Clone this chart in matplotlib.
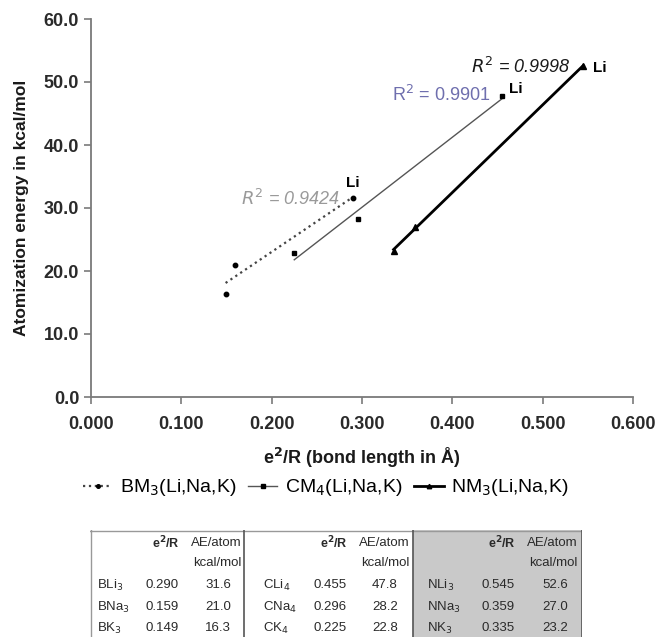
import numpy as np
import matplotlib
matplotlib.use("Agg")
import matplotlib.pyplot as plt
from matplotlib.lines import Line2D
from matplotlib.patches import Rectangle

plt.rcParams['font.family'] = ['Liberation Sans', 'DejaVu Sans']

# data
bm_names = ["BLi$_3$", "BNa$_3$", "BK$_3$"]
bm_x = [0.290, 0.159, 0.149]
bm_y = [31.6, 21.0, 16.3]
cm_names = ["CLi$_4$", "CNa$_4$", "CK$_4$"]
cm_x = [0.455, 0.296, 0.225]
cm_y = [47.8, 28.2, 22.8]
nm_names = ["NLi$_3$", "NNa$_3$", "NK$_3$"]
nm_x = [0.545, 0.359, 0.335]
nm_y = [52.6, 27.0, 23.2]

series_labels = ["BM$_3$(Li,Na,K)", "CM$_4$(Li,Na,K)", "NM$_3$(Li,Na,K)"]
r2_labels = ["$R^2$ = 0.9424", "R$^2$ = 0.9901", "$R^2$ = 0.9998"]
x_ticks = [0.0, 0.1, 0.2, 0.3, 0.4, 0.5, 0.6]
y_ticks = [0, 10, 20, 30, 40, 50, 60]

fig = plt.figure(figsize=(6.58, 6.37), dpi=100)
ax = fig.add_axes([91/658, 240/637, 542/658, 378/637])

spine_c = '#7a7a7a'
for s in ['top', 'right']:
    ax.spines[s].set_visible(False)
for s in ['left', 'bottom']:
    ax.spines[s].set_color(spine_c)
    ax.spines[s].set_linewidth(1.3)
ax.tick_params(colors=spine_c, length=5, width=1.2, labelcolor='#2a2a2a')
ax.tick_params(axis='x', pad=9)

styles = [
    dict(x=bm_x, y=bm_y, ls=':', lw=1.6, lc='#444444', marker='o', ms=3.2),
    dict(x=cm_x, y=cm_y, ls='-', lw=1.0, lc='#555555', marker='s', ms=3.2),
    dict(x=nm_x, y=nm_y, ls='-', lw=2.0, lc='#000000', marker='^', ms=3.8),
]

handles = []
for st, lab in zip(styles, series_labels):
    xs = np.array(st['x'])
    ys = np.array(st['y'])
    k, b = np.polyfit(xs, ys, 1)
    xx = np.array([xs.min(), xs.max()])
    ax.plot(xx, k*xx + b, ls=st['ls'], lw=st['lw'], color=st['lc'])
    ax.plot(xs, ys, ls='none', marker=st['marker'], ms=st['ms'], color='black')
    handles.append(Line2D([], [], ls=st['ls'], lw=st['lw'], color=st['lc'],
                          marker=st['marker'], ms=st['ms'] - 0.6, mfc='black',
                          mec='black', label=lab))

# R^2 labels and "Li" tags
ax.text(0.276, 31.4, r2_labels[0], ha='right', va='center', fontsize=13,
        style='italic', color='#9a9a9a')
ax.text(0.442, 48.0, r2_labels[1], ha='right', va='center', fontsize=13,
        color='#6f6fae')
ax.text(0.531, 52.4, r2_labels[2], ha='right', va='center', fontsize=13,
        style='italic', color='#1a1a1a')
ax.annotate("Li", (bm_x[0], bm_y[0]), xytext=(0, 6), textcoords='offset points',
            ha='center', va='bottom', fontsize=11, fontweight='bold')
ax.annotate("Li", (cm_x[0], cm_y[0]), xytext=(5, 0), textcoords='offset points',
            ha='left', va='bottom', fontsize=11, fontweight='bold')
ax.annotate("Li", (nm_x[0], nm_y[0]), xytext=(7, -2), textcoords='offset points',
            ha='left', va='center', fontsize=11, fontweight='bold')

ax.set_xlim(0, 0.6)
ax.set_ylim(0, 60)
ax.set_xticks(x_ticks)
ax.set_yticks(y_ticks)
ax.set_xticklabels(["%.3f" % v for v in x_ticks], fontsize=13, fontweight='bold')
ax.set_yticklabels(["%.1f" % v for v in y_ticks], fontsize=13, fontweight='bold')
ax.set_xlabel("e$^\\mathbf{2}$/R (bond length in Å)", fontsize=13, fontweight='bold',
              color='#1a1a1a')
ax.xaxis.set_label_coords(0.5, -0.13)
ax.set_ylabel("Atomization energy in kcal/mol", fontsize=12.5, fontweight='bold',
              color='#1a1a1a')
ax.yaxis.set_label_coords(-0.114, 0.5)

fig.legend(handles=handles, loc='center', bbox_to_anchor=(326/658, 1 - 488/637),
           ncol=3, frameon=False, fontsize=14, handlelength=1.5, handletextpad=0.4,
           columnspacing=0.6)

# table below the legend
tab = fig.add_axes([90/658, 0, 492/658, 107/637])
tab.set_xlim(0, 492)
tab.set_ylim(107, 0)
tab.axis('off')
tab.add_patch(Rectangle((323, 0), 169, 107, color='#c9c9c9', zorder=0))
tab.plot([0, 492], [0.5, 0.5], color='#999999', lw=1)
tab.plot([0.5, 0.5], [0, 107], color='#999999', lw=1)
tab.plot([491.5, 491.5], [0, 107], color='#555555', lw=1.2)
tab.plot([154, 154], [0, 107], color='#555555', lw=1.2)
tab.plot([323, 323], [0, 107], color='#555555', lw=1.2)

groups = [(bm_names, bm_x, bm_y), (cm_names, cm_x, cm_y), (nm_names, nm_x, nm_y)]
col_name = [7, 173, 337]
col_er = [72, 240, 408]
col_ae = [128, 295, 465]
col_right = [152, 320, 488]
row_y = [55, 77, 98]
tc = '#2a2a2a'
fs = 9.5
for g, (names, xs, ys) in enumerate(groups):
    tab.text(col_er[g] + 4, 13, "e$^\\mathbf{2}$/R", ha='center', va='center',
             fontsize=9, fontweight='bold', color=tc)
    tab.text(col_right[g], 13, "AE/atom", ha='right', va='center', fontsize=fs,
             color=tc)
    tab.text(col_right[g], 33, "kcal/mol", ha='right', va='center', fontsize=fs,
             color=tc)
    for i in range(3):
        tab.text(col_name[g], row_y[i], names[i], ha='left', va='center',
                 fontsize=fs, color=tc)
        tab.text(col_er[g], row_y[i], "%.3f" % xs[i], ha='center', va='center',
                 fontsize=fs, color=tc)
        tab.text(col_ae[g], row_y[i], "%.1f" % ys[i], ha='center', va='center',
                 fontsize=fs, color=tc)

fig.savefig("out.png", dpi=100)
